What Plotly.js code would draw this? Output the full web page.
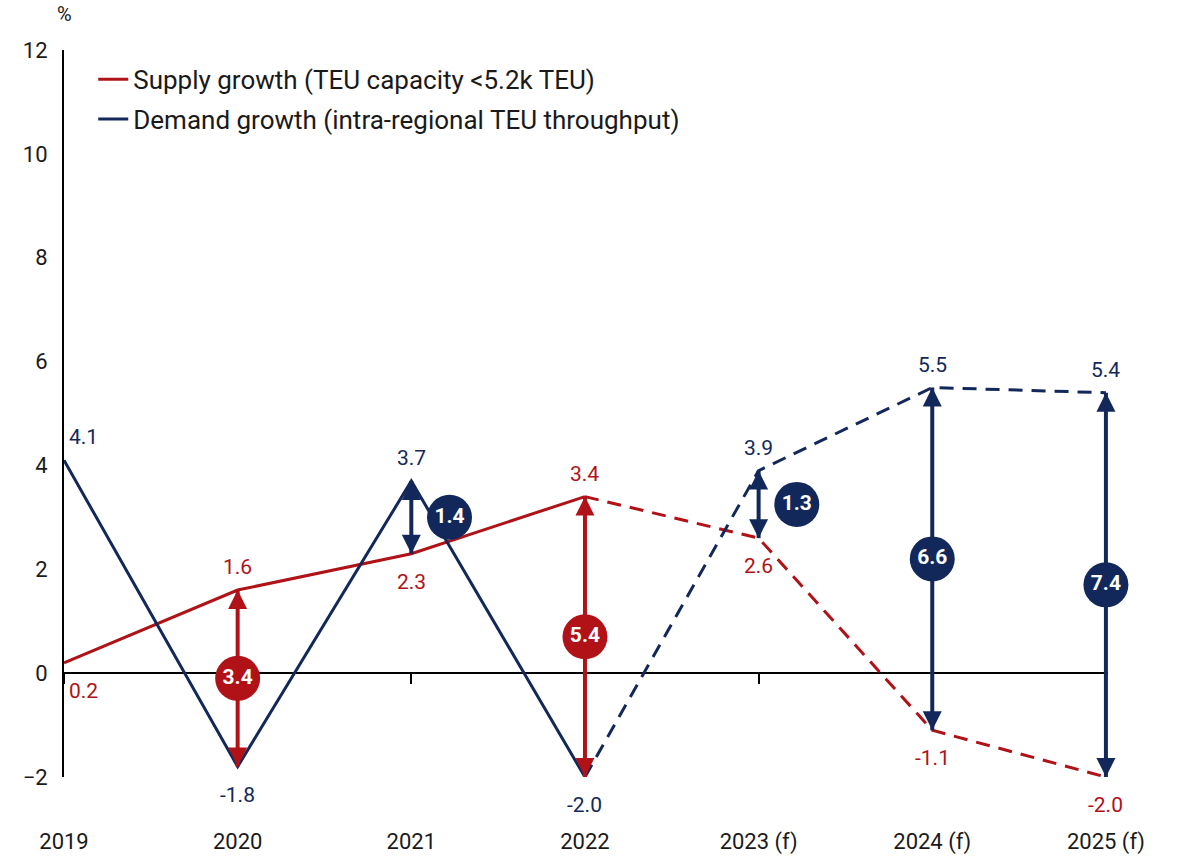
<!DOCTYPE html>
<html>
<head>
<meta charset="utf-8">
<script src="https://cdn.plot.ly/plotly-3.0.1.min.js"></script>
<style>html,body{margin:0;padding:0;background:#fff;}#chart{width:1178px;height:858px;}</style>
</head>
<body>
<div id="chart"></div>
<script>
// ---- data ----
const categories = ['2019', '2020', '2021', '2022', '2023 (f)', '2024 (f)', '2025 (f)'];
const supply = [0.2, 1.6, 2.3, 3.4, 2.6, -1.1, -2.0];
const demand = [4.1, -1.8, 3.7, -2.0, 3.9, 5.5, 5.4];
const lastActualIndex = 3; // 2022 is the last actual year; forecasts are dashed
const supplyName = 'Supply growth (TEU capacity <5.2k TEU)';
const demandName = 'Demand growth (intra-regional TEU throughput)';

// ---- style ----
const RED = '#b01217';
const NAVY = '#13285a';
const FONT = 'Roboto, "Liberation Sans", sans-serif';

const idx = categories.map((_, i) => i);
const actualIdx = idx.slice(0, lastActualIndex + 1);
const fcIdx = idx.slice(lastActualIndex);

const traces = [];
function series(vals, name, color, group) {
  traces.push({
    x: actualIdx, y: actualIdx.map(i => vals[i]), type: 'scatter', mode: 'lines',
    name: name, legendgroup: group, line: {color: color, width: 3}, hoverinfo: 'skip'
  });
  traces.push({
    x: fcIdx, y: fcIdx.map(i => vals[i]), type: 'scatter', mode: 'lines',
    name: name, legendgroup: group, showlegend: false, hoverinfo: 'skip',
    line: {color: color, width: 3, dash: '14px,9px'}
  });
}
series(supply, supplyName, RED, 's');
series(demand, demandName, NAVY, 'd');

// gap arrows (double headed, tips at the data points)
const gapIdx = idx.slice(1);
gapIdx.forEach(i => {
  const hi = Math.max(supply[i], demand[i]);
  const lo = Math.min(supply[i], demand[i]);
  const color = supply[i] > demand[i] ? RED : NAVY;
  traces.push({
    x: [i, i], y: [lo, hi], type: 'scatter', mode: 'lines',
    showlegend: false, hoverinfo: 'skip',
    line: {color: color, width: 4}
  });
  traces.push({
    x: [i, i], y: [hi, lo], type: 'scatter', mode: 'markers',
    showlegend: false, hoverinfo: 'skip', cliponaxis: false,
    marker: {symbol: ['arrow-up', 'arrow-down'], size: 19, color: color, line: {width: 0}}
  });
});

// gap bubbles
const bx = [], by = [], bt = [], bc = [];
gapIdx.forEach(i => {
  const gap = Math.abs(supply[i] - demand[i]);
  bx.push(gap < 2 ? i + 0.22 : i);
  by.push((supply[i] + demand[i]) / 2);
  bt.push(gap.toFixed(1));
  bc.push(supply[i] > demand[i] ? RED : NAVY);
});
traces.push({
  x: bx, y: by, text: bt, type: 'scatter', mode: 'markers+text', showlegend: false,
  cliponaxis: false, hoverinfo: 'skip',
  marker: {size: 45, color: bc, line: {width: 0}},
  textposition: 'middle center',
  textfont: {family: FONT, size: 21, color: '#ffffff', weight: 'bold'}
});

// value labels
const annotations = [];
idx.forEach(i => {
  const sAbove = supply[i] > demand[i];
  [[supply[i], RED, sAbove], [demand[i], NAVY, !sAbove]].forEach(([v, c, above]) => {
    annotations.push({
      x: i, y: v, xref: 'x', yref: 'y', text: v.toFixed(1), showarrow: false,
      xanchor: i === 0 ? 'left' : 'center', xshift: i === 0 ? 3 : 0,
      yanchor: 'middle', yshift: above ? 23 : -28,
      font: {family: FONT, size: 21, color: c}
    });
  });
});
annotations.push({
  x: 0, y: 1, xref: 'paper', yref: 'paper', text: '%', showarrow: false,
  xanchor: 'center', yanchor: 'bottom', yshift: 22,
  font: {family: FONT, size: 20, color: '#1a1a1a'}
});

const layout = {
  width: 1178, height: 858,
  margin: {l: 64, r: 70, t: 50, b: 81},
  paper_bgcolor: '#fff', plot_bgcolor: '#fff',
  font: {family: FONT, color: '#1a1a1a'},
  showlegend: true,
  legend: {
    x: 0.028, y: 0.992, xanchor: 'left', yanchor: 'top',
    font: {family: FONT, size: 26, color: '#1a1a1a'},
    bgcolor: 'rgba(0,0,0,0)', traceorder: 'grouped', tracegroupgap: 3
  },
  xaxis: {
    range: [0, 6.012], tickvals: idx, ticktext: categories,
    anchor: 'free', position: 2 / 14, layer: 'below traces',
    showline: true, linecolor: '#000', linewidth: 2,
    ticks: 'outside', ticklen: 10, tickcolor: '#000', tickwidth: 2,
    showgrid: false, zeroline: false,
    ticklabelstandoff: 138,
    tickfont: {family: FONT, size: 22, color: '#1a1a1a'}
  },
  yaxis: {
    range: [-2, 12], tickvals: [-2, 0, 2, 4, 6, 8, 10, 12],
    showline: true, linecolor: '#000', linewidth: 2, layer: 'below traces',
    ticks: '', showgrid: false, zeroline: false,
    ticklabelstandoff: 10,
    tickfont: {family: FONT, size: 22, color: '#1a1a1a'}
  },
  annotations: annotations
};

Plotly.newPlot('chart', traces, layout, {displayModeBar: false, staticPlot: true});
</script>
</body>
</html>
